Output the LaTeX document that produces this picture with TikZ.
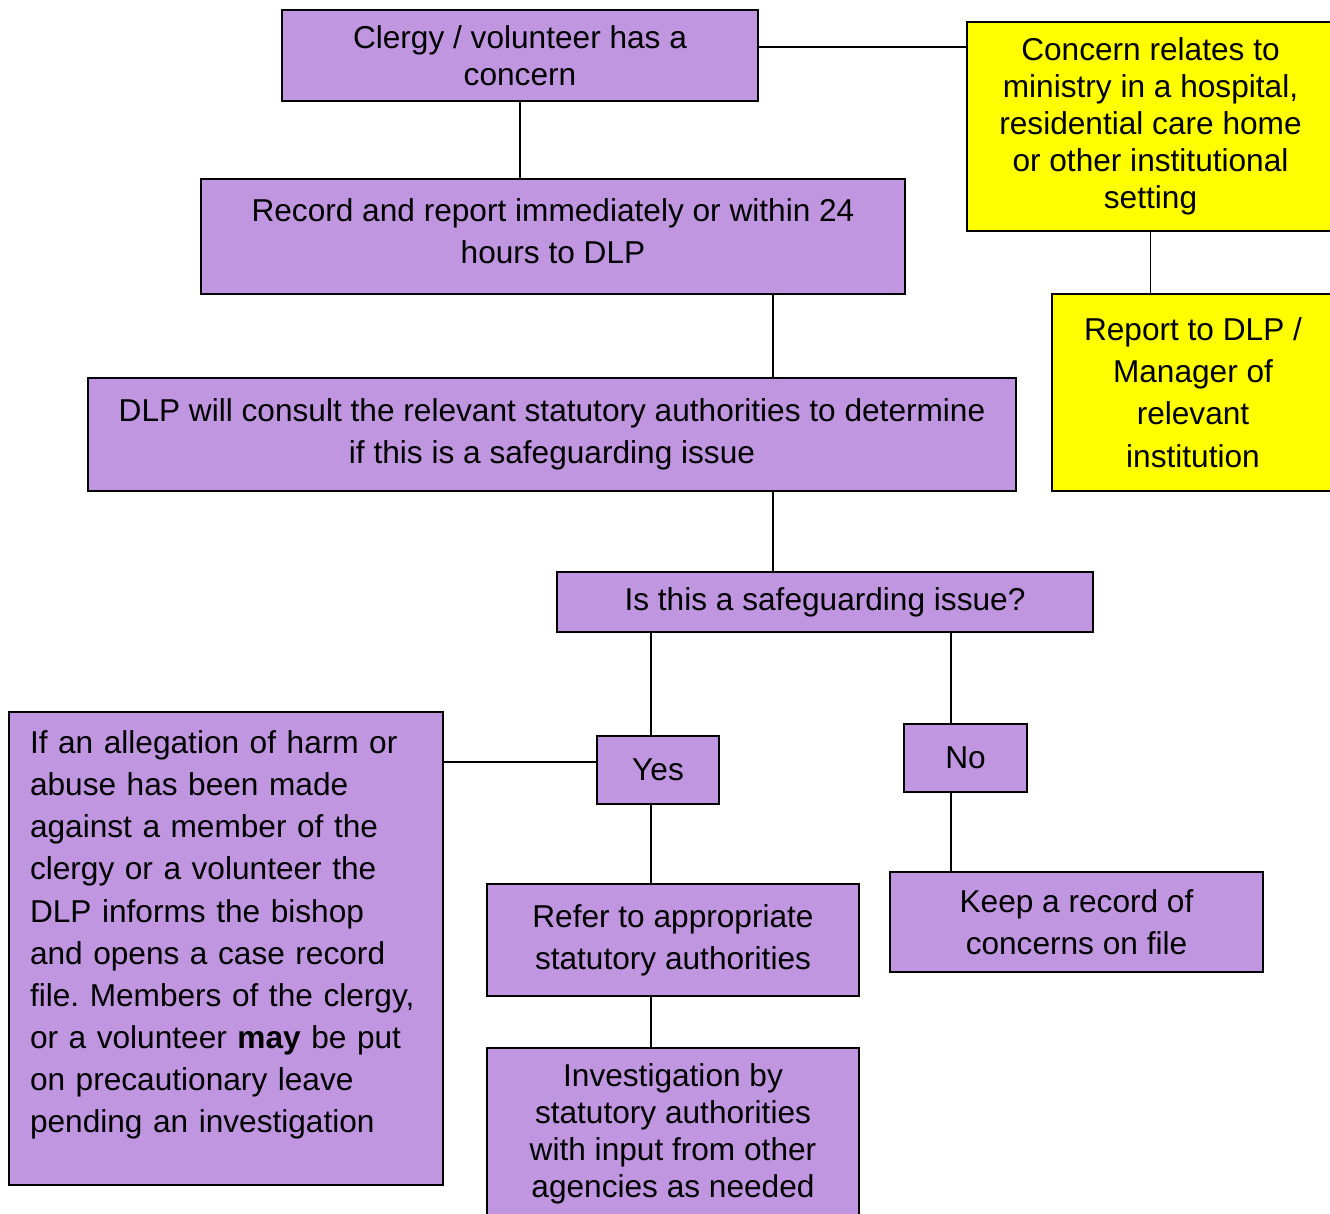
\documentclass[tikz,border=0pt]{standalone}
\usepackage{fontspec}
\setmainfont{Liberation Sans}
\frenchspacing
\definecolor{lilac}{RGB}{192,150,224}
\definecolor{brightyellow}{RGB}{255,255,0}
\tikzset{
  flowbox/.style={draw, line width=1.1pt, fill=lilac, inner sep=0pt, align=center, font=\fontsize{18}{21}\selectfont},
  wide/.style={font=\fontsize{18}{24}\selectfont},
  yellowbox/.style={flowbox, fill=brightyellow},
  link/.style={line width=1.1pt}
}
\begin{document}
\begin{tikzpicture}[x=0.02cm, y=-0.02cm]
\useasboundingbox (0,0) rectangle (1330,1214);
% boxes
\node[flowbox, minimum width=9.52cm, minimum height=1.82cm] (clergy) at (520,55.5) {Clergy / volunteer has a\\concern};
\node[flowbox, wide, minimum width=14.08cm, minimum height=2.3cm] (record) at (553,236.5) {Record and report immediately or within 24\\hours to DLP\par\vspace{0.2cm}};
\node[flowbox, wide, minimum width=18.56cm, minimum height=2.26cm] (dlp) at (552,434.5) {DLP will consult the relevant statutory authorities to determine\\if this is a safeguarding issue};
\node[flowbox, minimum width=10.72cm, minimum height=1.2cm] (issue) at (825,602) {Is this a safeguarding issue?};
\node[flowbox, minimum width=2.44cm, minimum height=1.36cm] (yes) at (658,770) {Yes};
\node[flowbox, minimum width=2.46cm, minimum height=1.36cm] (no) at (965.5,758) {No};
\node[flowbox, wide, minimum width=7.44cm, minimum height=2.24cm] (refer) at (673,940) {Refer to appropriate\\statutory authorities};
\node[flowbox, wide, minimum width=7.46cm, minimum height=2cm] (keep) at (1076.5,922) {Keep a record of\\concerns on file};
\node[flowbox, minimum width=7.44cm, minimum height=3.44cm] (invest) at (673,1134) {Investigation by\\statutory authorities\\with input from other\\agencies as needed};
\node[flowbox, wide, anchor=north, align=left, text width=7.84cm, minimum width=8.68cm, text height=0.83cm, text depth=8.63cm] (allegation) at (226,711)
  {If an allegation of harm or\\abuse has been made\\against a member of the\\clergy or a volunteer the\\DLP informs the bishop\\and opens a case record\\file. Members of the clergy,\\or a volunteer \textbf{may} be put\\on precautionary leave\\pending an investigation};
\node[yellowbox, minimum width=7.34cm, minimum height=4.18cm] (concern) at (1150.5,126.5) {Concern relates to\\ministry in a hospital,\\residential care home\\or other institutional\\setting};
\node[yellowbox, wide, minimum width=5.64cm, minimum height=3.94cm] (report) at (1193,392.5) {Report to DLP /\\Manager of\\relevant\\institution};
% line positions
\coordinate (spine) at (773,0);
\coordinate (yesx) at (651,0);
\coordinate (nox) at (951,0);
% connectors
\draw[link] ([yshift=0.17cm]clergy.east) -- ([yshift=0.17cm]clergy.east -| concern.west);
\draw[link] (clergy.south) -- (clergy.south |- record.north);
\draw[link] (record.south -| spine) -- (dlp.north -| spine);
\draw[link] (dlp.south -| spine) -- (issue.north -| spine);
\draw[link] (issue.south -| yesx) -- (yes.north -| yesx);
\draw[link] (issue.south -| nox) -- (no.north -| nox);
\draw[link] ([yshift=0.16cm]yes.west) -- ([yshift=0.16cm]yes.west -| allegation.east);
\draw[link] (yes.south -| yesx) -- (refer.north -| yesx);
\draw[link] (refer.south -| yesx) -- (invest.north -| yesx);
\draw[link] (no.south -| nox) -- (keep.north -| nox);
\draw[link] (concern.south) -- (concern.south |- report.north);
\end{tikzpicture}
\end{document}
